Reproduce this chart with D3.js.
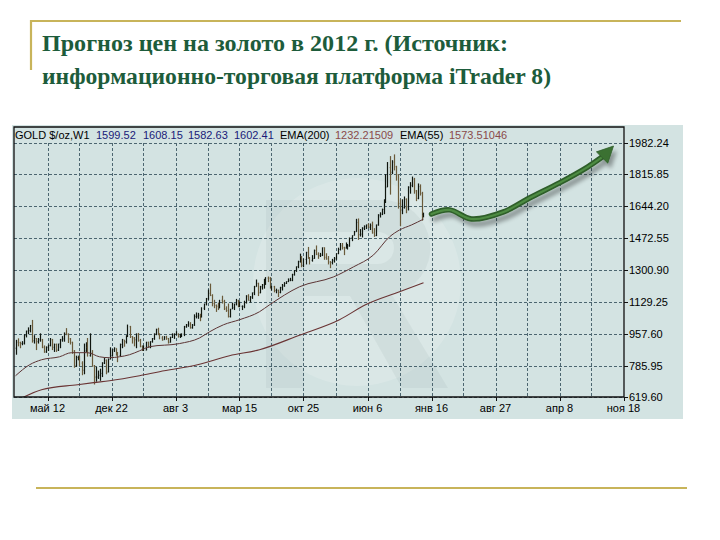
<!DOCTYPE html>
<html><head><meta charset="utf-8">
<script src="https://cdn.jsdelivr.net/npm/d3@7"></script>
<style>body{margin:0;background:#fff;}</style>
</head><body>
<svg id="c" width="720" height="540"></svg>
<script>
// ---------------- DATA ----------------
const titleLines = ["Прогноз цен на золото в 2012 г. (Источник:", "информационно-торговая платформа iTrader 8)"];
const symbolLabel = "GOLD $/oz,W1";
const headerOHLC = ["1599.52", "1608.15", "1582.63", "1602.41"];
const emaNames = ["EMA(200)", "EMA(55)"];
const emaLast = ["1232.21509", "1573.51046"];

const firstBar = "2008-01-21"; // weekly bars, consecutive Mondays
const opens = [
880,912,910,905,907,948,972,975,1001,920,932,915,925,925,885,860,885,895,925,885,900,870,903,925,930,960,955,930,912,865,
785,830,835,800,762,865,885,840,855,785,725,725,735,745,800,815,752,820,840,872,
880,855,840,900,925,915,945,995,943,935,925,955,922,890,870,870,913,885,915,932,957,980,955,935,925,940,933,912,938,952,
955,955,945,952,955,995,1005,1010,990,1004,1050,1052,1057,1048,1095,1118,1145,1175,1163,1120,1110,1105,
1095,1138,1130,1092,1082,1050,1090,1097,1118,1135,1105,1105,1105,1125,1160,1137,1155,1178,1210,1228,1177,1210,1220,1228,1257,1256,1208,1210,1190,1190,
1180,1205,1215,1228,1238,1245,1245,1275,1297,1318,1345,1372,1325,1357,1395,1367,1352,1362,1405,1385,1377,1380,
1420,1368,1360,1343,1340,1350,1360,1388,1410,1430,1420,1418,1430,1430,1474,1486,1505,1555,1490,1493,1525,1535,1542,1530,1538,1500,
1485,1542,1595,1600,1625,1663,1745,1850,1825,1880,1855,1812,1658,1622,1635,1680,1640,1745,1755,1788,1725,1685,1748,1712,1599.52];
const highs = [
925,933,915,918,955,975,992,1005,1032,950,935,935,960,930,895,890,900,935,930,905,905,905,930,945,965,988,960,935,915,870,
840,840,840,810,905,912,935,960,870,790,780,760,770,805,830,820,825,885,875,885,
880,860,905,930,925,950,1007,1000,945,940,960,962,930,895,895,915,915,918,935,960,985,990,960,945,945,947,935,942,960,960,
972,960,958,960,1000,1010,1025,1020,1010,1062,1072,1070,1065,1100,1120,1150,1195,1227,1170,1140,1115,1125,
1140,1162,1140,1105,1120,1092,1125,1120,1145,1140,1132,1110,1135,1165,1170,1160,1180,1215,1249,1232,1215,1225,1253,1262,1265,1262,1215,1215,1200,1195,
1210,1225,1235,1240,1255,1258,1280,1300,1320,1350,1388,1375,1362,1398,1424,1370,1380,1410,1432,1395,1392,1422,
1422,1390,1375,1348,1360,1370,1390,1420,1445,1445,1425,1448,1440,1475,1487,1510,1575,1577,1520,1530,1540,1545,1550,1550,1560,1525,
1545,1600,1610,1630,1680,1815,1880,1912,1890,1921,1860,1815,1680,1680,1695,1685,1750,1772,1802,1795,1730,1765,1760,1720,1608.15];
const lows = [
845,890,880,896,900,938,955,965,910,905,870,905,915,880,855,855,865,890,870,860,860,865,880,915,915,950,908,900,850,775,
780,815,785,735,740,860,835,835,780,685,700,715,705,725,795,740,750,820,835,860,
840,805,835,880,888,905,940,935,905,890,880,915,885,865,865,868,882,880,910,925,950,950,928,920,925,925,905,910,935,930,
950,937,935,940,945,990,995,985,985,1000,1040,1038,1025,1045,1085,1110,1140,1160,1105,1095,1075,1085,
1095,1120,1085,1075,1045,1045,1090,1085,1110,1100,1100,1085,1095,1120,1135,1125,1145,1165,1210,1160,1175,1195,1200,1220,1235,1200,1190,1180,1175,1155,
1175,1190,1210,1225,1235,1240,1240,1270,1290,1310,1340,1315,1315,1330,1360,1330,1345,1360,1380,1360,1370,1375,
1355,1355,1330,1310,1330,1340,1355,1385,1405,1410,1380,1415,1410,1425,1455,1485,1505,1462,1480,1475,1515,1520,1525,1515,1495,1478,
1482,1538,1582,1595,1600,1660,1745,1705,1815,1835,1780,1630,1535,1600,1630,1605,1620,1710,1745,1710,1670,1680,1700,1565,1582.63];
const closes = [
912,910,905,907,948,972,975,1001,920,932,915,925,925,885,860,885,895,925,885,900,870,903,925,930,960,955,930,912,865,785,
830,835,800,762,865,885,840,855,785,725,725,735,745,800,815,752,820,840,872,880,
855,840,900,925,915,945,995,943,935,925,955,922,890,870,870,913,885,915,932,957,980,955,935,925,940,933,912,938,952,955,
955,945,952,955,995,1005,1010,990,1004,1050,1052,1057,1048,1095,1118,1145,1175,1163,1120,1110,1105,1095,
1138,1130,1092,1082,1050,1090,1097,1118,1135,1105,1105,1105,1125,1160,1137,1155,1178,1210,1228,1177,1210,1220,1228,1257,1256,1208,1210,1190,1190,1180,
1205,1215,1228,1238,1245,1245,1275,1297,1318,1345,1372,1325,1357,1395,1367,1352,1362,1405,1385,1377,1380,1420,
1368,1360,1343,1340,1350,1360,1388,1410,1430,1420,1418,1430,1430,1474,1486,1505,1555,1490,1493,1525,1535,1542,1530,1538,1500,1485,
1542,1595,1600,1625,1663,1745,1850,1825,1880,1855,1812,1658,1622,1635,1680,1640,1745,1755,1788,1725,1685,1748,1712,1597,1602.41];

const ema55Dates = ["2008-01-21","2008-03-10","2008-04-21","2008-06-23","2008-08-04","2008-09-29","2008-11-10","2008-12-15","2009-01-19","2009-02-23","2009-03-30","2009-05-04","2009-08-17","2009-10-26","2009-11-30","2010-01-18","2010-03-15","2010-05-24","2010-06-28","2010-10-11","2011-02-07","2011-04-18","2011-06-27","2011-08-22","2011-09-26","2011-11-07","2011-12-19"];
const ema55Values = [732,791,818,834,856,856,834,829,834,845,866,888,905,935,968,1006,1033,1076,1113,1210,1263,1317,1381,1478,1515,1542,1573.51];
const ema200Dates = ["2008-02-11","2008-04-21","2008-08-25","2008-10-20","2008-12-15","2009-03-30","2009-06-08","2009-10-19","2010-02-08","2010-05-24","2010-10-11","2011-02-28","2011-05-30","2011-09-26","2011-12-19"];
const ema200Values = [612,657,684,695,705,732,754,791,840,872,950,1033,1113,1183,1232.22];

const forecastDates = ["2011-12-26","2012-01-16","2012-03-19","2012-06-04","2012-09-24","2012-12-24","2013-04-08","2013-07-15","2013-09-09","2013-10-14"];
const forecastValues = [1590,1601,1623,1574,1612,1687,1768,1853,1912,1966];

const yTicks = [619.60, 785.95, 957.60, 1129.25, 1300.90, 1472.55, 1644.20, 1815.85, 1982.24];
const xTickDates = ["2008-05-12","2008-12-22","2009-08-03","2010-03-15","2010-10-25","2011-06-06","2012-01-16","2012-08-27","2013-04-08","2013-11-18"];
const xTickLabels = ["май 12","дек 22","авг 3","мар 15","окт 25","июн 6","янв 16","авг 27","апр 8","ноя 18"];

// ---------------- DRAWING ----------------
const svg = d3.select("#c");
const parse = d3.utcParse("%Y-%m-%d");
const P = {left:14, right:624, top:127, bottom:397};
const x = d3.scaleTime()
  .domain([parse(firstBar), parse(xTickDates[xTickDates.length-1])])
  .range([15.5, 623.5]);
const y = d3.scaleLinear()
  .domain([yTicks[0], yTicks[yTicks.length-1]])
  .range([396.7, 143]);

const defs = svg.append("defs");
defs.append("clipPath").attr("id","plotclip").append("rect")
  .attr("x",P.left).attr("y",P.top).attr("width",P.right-P.left).attr("height",P.bottom-P.top);
const sh = defs.append("filter").attr("id","shadow").attr("x","-20%").attr("y","-20%").attr("width","140%").attr("height","160%");
sh.append("feGaussianBlur").attr("in","SourceAlpha").attr("stdDeviation",2.2).attr("result","b");
sh.append("feOffset").attr("in","b").attr("dx",3).attr("dy",5).attr("result","o");
sh.append("feComponentTransfer").attr("in","o").attr("result","o2")
  .append("feFuncA").attr("type","linear").attr("slope",0.35);
const mg = sh.append("feMerge");
mg.append("feMergeNode").attr("in","o2");
mg.append("feMergeNode").attr("in","SourceGraphic");

// decorative slide lines
const gold = "#c8b45a";
svg.append("line").attr("x1",30).attr("x2",681).attr("y1",21).attr("y2",21).attr("stroke",gold).attr("stroke-width",2.2);
svg.append("line").attr("x1",31).attr("x2",31).attr("y1",20).attr("y2",70).attr("stroke",gold).attr("stroke-width",2.2);
svg.append("line").attr("x1",36).attr("x2",687).attr("y1",488).attr("y2",488).attr("stroke",gold).attr("stroke-width",2.2);

// title
const tw = [466, 509];
svg.append("g").selectAll("text").data(titleLines).join("text")
  .attr("x",42).attr("y",(d,i)=>51+i*33)
  .attr("textLength",(d,i)=>tw[i]).attr("lengthAdjust","spacingAndGlyphs")
  .attr("font-family","'Liberation Serif','DejaVu Serif',serif").attr("font-weight","bold")
  .attr("font-size",24).attr("fill","#1d5c3b").text(d=>d);

// chart panel
svg.append("rect").attr("x",12).attr("y",125).attr("width",671).attr("height",294).attr("fill","#d3e3e2");

// watermark logo (shapes only)
const wm = svg.append("g").attr("clip-path","url(#plotclip)");
wm.append("circle").attr("cx",357).attr("cy",282).attr("r",104).attr("fill","#ffffff").attr("opacity",0.16);
wm.append("path")
  .attr("d","M266,200H382A48,48 0 0 1 392,295L448,388H402L350,296H304V388H266Z M304,232H378A16,16 0 0 1 378,264H304Z")
  .attr("fill-rule","evenodd").attr("fill","#7f9898").attr("opacity",0.10);

// grid
const gridC = "#4c6670";
const grid = svg.append("g").attr("stroke",gridC).attr("stroke-width",1).attr("stroke-dasharray","3,2");
grid.selectAll("line.h").data(yTicks).join("line").attr("class","h")
  .attr("x1",P.left).attr("x2",P.right).attr("y1",d=>Math.round(y(d))+0.5).attr("y2",d=>Math.round(y(d))+0.5);
const vgrid = [];
xTickDates.forEach(s=>{const d=parse(s); vgrid.push(d); vgrid.push(d3.utcMonday.offset(d,16));});
grid.selectAll("line.v").data(vgrid.filter(d=>x(d)<P.right-2)).join("line").attr("class","v")
  .attr("x1",d=>Math.round(x(d))+0.5).attr("x2",d=>Math.round(x(d))+0.5)
  .attr("y1",Math.round(y(yTicks[yTicks.length-1]))).attr("y2",P.bottom);

// bars
const bars = opens.map((o,i)=>({d:d3.utcMonday.offset(parse(firstBar),i),o,h:highs[i],l:lows[i],c:closes[i]}));
const bg = svg.append("g").attr("clip-path","url(#plotclip)");
const barCol = b => b.c >= b.o ? "#10160f" : "#6a5a3a";
bg.selectAll("line.b").data(bars).join("line").attr("class","b")
  .attr("x1",b=>Math.round(x(b.d))+0.5).attr("x2",b=>Math.round(x(b.d))+0.5)
  .attr("y1",b=>y(b.h)).attr("y2",b=>y(b.l)).attr("stroke",barCol).attr("stroke-width",1.2);
bg.selectAll("line.o").data(bars).join("line").attr("class","o")
  .attr("x1",b=>Math.round(x(b.d))-0.5).attr("x2",b=>Math.round(x(b.d))+0.5)
  .attr("y1",b=>y(b.o)).attr("y2",b=>y(b.o)).attr("stroke",barCol).attr("stroke-width",1).attr("opacity",0.6);

// EMA lines
const emaLine = d3.line().x(p=>x(p[0])).y(p=>y(p[1])).curve(d3.curveMonotoneX);
bg.append("path").datum(ema200Dates.map((s,i)=>[parse(s),ema200Values[i]]))
  .attr("d",emaLine).attr("fill","none").attr("stroke","#6a3434").attr("stroke-width",1.1);
bg.append("path").datum(ema55Dates.map((s,i)=>[parse(s),ema55Values[i]]))
  .attr("d",emaLine).attr("fill","none").attr("stroke","#5c3434").attr("stroke-width",1);

// plot border
svg.append("path").attr("d",`M${P.left},${P.top}H${P.right}V${P.bottom}H${P.left}Z`)
  .attr("fill","none").attr("stroke","#101010").attr("stroke-width",1.3);

// header
const hf = "'Liberation Sans',Arial,sans-serif";
const headerItems = [[symbolLabel,"#000"],[headerOHLC[0],"#1a1a78"],[headerOHLC[1],"#1a1a78"],[headerOHLC[2],"#1a1a78"],[headerOHLC[3],"#1a1a78"],
  [emaNames[0],"#000"],[emaLast[0],"#8a4a4a"],[emaNames[1],"#000"],[emaLast[1],"#8a4a4a"]];
const headerX = [15,96,143,188,234,280,335,400,449];
svg.append("g").selectAll("text").data(headerItems).join("text")
  .attr("x",(d,i)=>headerX[i]).attr("y",139).attr("font-family",hf).attr("font-size",11)
  .attr("fill",d=>d[1]).text(d=>d[0]);

// y axis (right)
const ya = svg.append("g");
ya.selectAll("line").data(yTicks).join("line")
  .attr("x1",P.right).attr("x2",P.right+4).attr("y1",d=>Math.round(y(d))+0.5).attr("y2",d=>Math.round(y(d))+0.5)
  .attr("stroke","#101010");
ya.selectAll("text").data(yTicks).join("text")
  .attr("x",P.right+5).attr("y",d=>y(d)+4).attr("font-family",hf).attr("font-size",11)
  .attr("fill","#000").text(d=>d.toFixed(2));

// x axis (bottom)
const xa = svg.append("g");
xa.selectAll("line").data(xTickDates).join("line")
  .attr("x1",s=>Math.round(x(parse(s)))+0.5).attr("x2",s=>Math.round(x(parse(s)))+0.5)
  .attr("y1",P.bottom).attr("y2",P.bottom+4).attr("stroke","#101010");
xa.selectAll("text").data(xTickDates).join("text")
  .attr("x",s=>x(parse(s))).attr("y",P.bottom+15).attr("text-anchor","middle")
  .attr("font-family",hf).attr("font-size",11).attr("fill","#000")
  .text((s,i)=>xTickLabels[i]);

// forecast arrow
const fp = forecastDates.map((s,i)=>[x(parse(s)),y(forecastValues[i])]);
const shaft = fp.slice(1, fp.length-1);
const fl = d3.line().curve(d3.curveCatmullRom.alpha(0.5));
const ag = svg.append("g").attr("filter","url(#shadow)");
ag.append("path").attr("d",fl(shaft)).attr("fill","none").attr("stroke","#2f5e2a").attr("stroke-width",5.5).attr("stroke-linecap","round");
ag.append("path").attr("d",fl(shaft)).attr("fill","none").attr("stroke","#4e8c43").attr("stroke-width",2.2).attr("stroke-linecap","round");
const tip = fp[fp.length-1], base = fp[fp.length-2];
const dx = tip[0]-base[0], dy = tip[1]-base[1], len = Math.hypot(dx,dy);
const nx = -dy/len*8, ny = dx/len*8;
const bx = base[0]-dx/len*2, by = base[1]-dy/len*2;
ag.append("path").attr("d",`M${tip[0]},${tip[1]}L${bx+nx},${by+ny}L${bx-nx},${by-ny}Z`)
  .attr("fill","#3b7133").attr("stroke","#2f5e2a").attr("stroke-width",0.8);
</script>
</body></html>
